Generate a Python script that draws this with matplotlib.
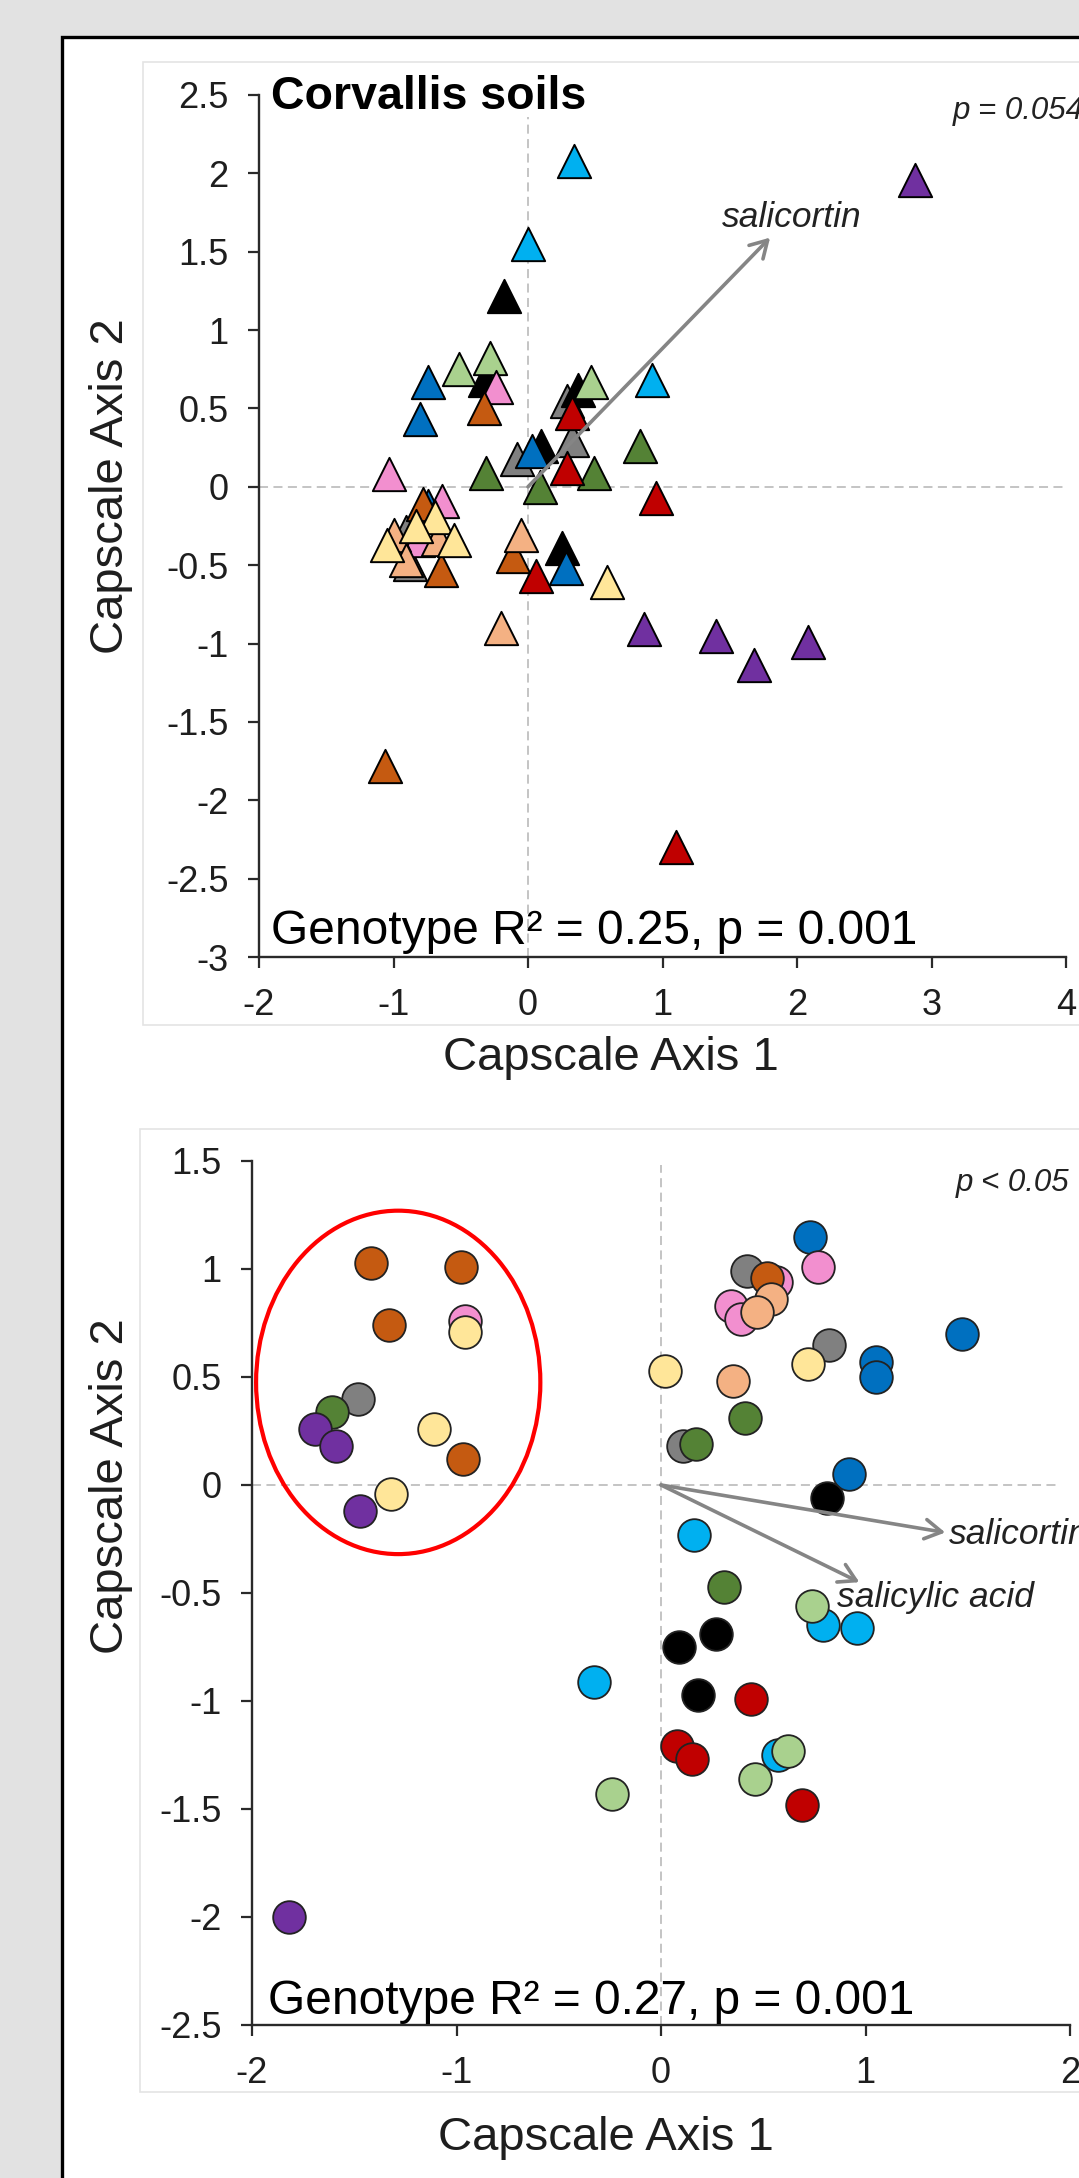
import numpy as np
import matplotlib
matplotlib.use('Agg')
import matplotlib.pyplot as plt
from matplotlib.patches import Rectangle, Ellipse

plt.rcParams['font.family'] = ['Liberation Sans', 'DejaVu Sans']
plt.rcParams['axes.unicode_minus'] = False

W, H = 1079, 2178

# ---- colours of the genotypes ----
colors = {
    'gray': '#808080', 'black': '#000000', 'blue': '#0070c0', 'cyan': '#00b0f0',
    'purple': '#7030a0', 'lgreen': '#a9d18e', 'dgreen': '#548235', 'red': '#c00000',
    'pink': '#f28fcf', 'brown': '#c55a11', 'salmon': '#f4b183', 'yellow': '#ffe699',
}

# ---- Corvallis soils (triangles) ----
top_gray_x = [0.29, 0.33, -0.08, -0.91, -0.88]
top_gray_y = [0.55, 0.30, 0.18, -0.29, -0.49]
top_black_x = [-0.18, -0.32, 0.37, 0.10, 0.25]
top_black_y = [1.22, 0.68, 0.62, 0.26, -0.39]
top_blue_x = [-0.74, -0.80, 0.03, 0.28, -0.74]
top_blue_y = [0.67, 0.43, 0.23, -0.52, -0.12]
top_cyan_x = [0.34, 0.00, 0.92]
top_cyan_y = [2.08, 1.55, 0.68]
top_purple_x = [2.88, 0.86, 1.40, 1.68, 2.08]
top_purple_y = [1.96, -0.91, -0.95, -1.14, -0.99]
top_lgreen_x = [-0.28, -0.51, 0.47]
top_lgreen_y = [0.82, 0.75, 0.67]
top_dgreen_x = [0.83, -0.31, 0.49, 0.09]
top_dgreen_y = [0.26, 0.09, 0.09, 0.00]
top_red_x = [0.33, 0.29, 0.95, 0.06, 1.10]
top_red_y = [0.47, 0.12, -0.07, -0.57, -2.30]
top_pink_x = [-0.24, -1.03, -0.64, -0.82]
top_pink_y = [0.64, 0.08, -0.09, -0.34]
top_brown_x = [-0.33, -0.78, -0.65, -0.11, -1.06]
top_brown_y = [0.50, -0.11, -0.53, -0.44, -1.78]
top_salmon_x = [-1.00, -0.67, -0.91, -0.05, -0.20]
top_salmon_y = [-0.31, -0.33, -0.47, -0.31, -0.90]
top_yellow_x = [-0.69, -0.83, -0.55, -1.05, 0.59]
top_yellow_y = [-0.19, -0.25, -0.34, -0.37, -0.61]

# ---- second panel (circles) ----
bot_gray_x = [0.42, 0.82, 0.11, -1.48]
bot_gray_y = [0.99, 0.65, 0.18, 0.40]
bot_blue_x = [0.73, 1.47, 1.05, 1.05, 0.92]
bot_blue_y = [1.15, 0.70, 0.57, 0.50, 0.05]
bot_black_x = [0.81, 0.27, 0.09, 0.18]
bot_black_y = [-0.06, -0.69, -0.75, -0.97]
bot_dgreen_x = [0.41, 0.17, 0.31, -1.61]
bot_dgreen_y = [0.31, 0.19, -0.47, 0.34]
bot_cyan_x = [0.16, -0.33, 0.79, 0.96, 0.57]
bot_cyan_y = [-0.23, -0.91, -0.65, -0.66, -1.25]
bot_lgreen_x = [0.74, 0.62, 0.46, -0.24]
bot_lgreen_y = [-0.56, -1.23, -1.36, -1.43]
bot_pink_x = [0.77, 0.56, 0.34, 0.39, -0.96]
bot_pink_y = [1.01, 0.94, 0.83, 0.77, 0.76]
bot_brown_x = [0.52, -1.42, -0.98, -1.33, -0.97]
bot_brown_y = [0.96, 1.03, 1.01, 0.74, 0.12]
bot_salmon_x = [0.54, 0.47, 0.35]
bot_salmon_y = [0.86, 0.80, 0.48]
bot_yellow_x = [0.02, 0.72, -0.96, -1.11, -1.32]
bot_yellow_y = [0.53, 0.56, 0.71, 0.26, -0.04]
bot_purple_x = [-1.69, -1.59, -1.47, -1.82]
bot_purple_y = [0.26, 0.18, -0.12, -2.00]
bot_red_x = [0.44, 0.08, 0.15, 0.69]
bot_red_y = [-0.99, -1.21, -1.27, -1.48]

# biplot arrows (end points) and labels
top_arrow = (1.80, 1.59)
bot_arrows = [(1.39, -0.22), (0.97, -0.45)]

top_xticks = [-2, -1, 0, 1, 2, 3, 4]
top_yticks = [-3, -2.5, -2, -1.5, -1, -0.5, 0, 0.5, 1, 1.5, 2, 2.5]
bot_xticks = [-2, -1, 0, 1, 2]
bot_yticks = [-2.5, -2, -1.5, -1, -0.5, 0, 0.5, 1, 1.5]


def px(x, y):
    return x / W, 1 - y / H


fig = plt.figure(figsize=(W / 100, H / 100), dpi=100)
fig.patch.set_facecolor('#e2e2e2')

# white panel with black frame
fig.patches.append(Rectangle(px(62, 2300), 1.2, (2300 - 37) / H, transform=fig.transFigure,
                             facecolor='white', edgecolor='black', linewidth=2.4, zorder=-3))
# light grey chart boxes
fig.patches.append(Rectangle(px(143, 1025), 1.0, (1025 - 62) / H, transform=fig.transFigure,
                             facecolor='white', edgecolor='#e4e4e4', linewidth=1.2, zorder=-2))
fig.patches.append(Rectangle(px(140, 2092), 1.0, (2092 - 1129) / H, transform=fig.transFigure,
                             facecolor='white', edgecolor='#e4e4e4', linewidth=1.2, zorder=-2))

ax1 = fig.add_axes([259 / W, 1 - 957 / H, (1066 - 259) / W, (957 - 95) / H])
ax2 = fig.add_axes([252 / W, 1 - 2025 / H, (1070 - 252) / W, (2025 - 1161) / H])


def style(ax, xt, yt, xl, yl):
    ax.set_zorder(2)
    ax.set_xlim(*xl)
    ax.set_ylim(*yl)
    ax.patch.set_alpha(0)
    for s in ['top', 'right']:
        ax.spines[s].set_visible(False)
    for s in ['left', 'bottom']:
        ax.spines[s].set_color('#2a2a2a')
        ax.spines[s].set_linewidth(1.7)
    ax.set_xticks(xt)
    ax.set_xticklabels([f'{v:g}' for v in xt])
    ax.set_yticks(yt)
    ax.set_yticklabels([f'{v:g}' for v in yt])
    ax.tick_params(direction='out', length=8, width=1.6, color='#2a2a2a',
                   labelsize=26, labelcolor='#1e1e1e', pad=14)


style(ax1, top_xticks, top_yticks, (-2, 4), (-3, 2.5))
style(ax2, bot_xticks, bot_yticks, (-2, 2), (-2.5, 1.5))

dash = dict(color='#bfbfbf', lw=1.3, linestyle=(0, (5, 3)), zorder=1)
ax1.plot([0, 0], [-3, 2.36], **dash)
ax1.plot([-2, 4], [0, 0], **dash)
ax2.plot([0, 0], [-2.5, 1.48], **dash)
ax2.plot([-2, 1.95], [0, 0], **dash)

top_series = [
    (top_gray_x, top_gray_y, 'gray'), (top_black_x, top_black_y, 'black'),
    (top_blue_x, top_blue_y, 'blue'), (top_cyan_x, top_cyan_y, 'cyan'),
    (top_purple_x, top_purple_y, 'purple'), (top_lgreen_x, top_lgreen_y, 'lgreen'),
    (top_dgreen_x, top_dgreen_y, 'dgreen'), (top_red_x, top_red_y, 'red'),
    (top_pink_x, top_pink_y, 'pink'), (top_brown_x, top_brown_y, 'brown'),
    (top_salmon_x, top_salmon_y, 'salmon'), (top_yellow_x, top_yellow_y, 'yellow'),
]
for i, (xs, ys, c) in enumerate(top_series):
    ax1.scatter(xs, ys, s=24 ** 2, marker='^', facecolor=colors[c], edgecolor='black',
                linewidth=1.4, zorder=3 + i * 0.01)

bot_series = [
    (bot_gray_x, bot_gray_y, 'gray'), (bot_blue_x, bot_blue_y, 'blue'),
    (bot_black_x, bot_black_y, 'black'), (bot_dgreen_x, bot_dgreen_y, 'dgreen'),
    (bot_cyan_x, bot_cyan_y, 'cyan'), (bot_lgreen_x, bot_lgreen_y, 'lgreen'),
    (bot_pink_x, bot_pink_y, 'pink'), (bot_brown_x, bot_brown_y, 'brown'),
    (bot_salmon_x, bot_salmon_y, 'salmon'), (bot_yellow_x, bot_yellow_y, 'yellow'),
    (bot_purple_x, bot_purple_y, 'purple'), (bot_red_x, bot_red_y, 'red'),
]
for i, (xs, ys, c) in enumerate(bot_series):
    ax2.scatter(xs, ys, s=23.5 ** 2, marker='o', facecolor=colors[c], edgecolor='#222222',
                linewidth=1.3, zorder=3 + i * 0.01)

arrow = dict(arrowstyle='->,head_length=0.6,head_width=0.35', color='#858585', lw=2.6,
             shrinkA=0, shrinkB=0, mutation_scale=20)
ax1.annotate('', xy=top_arrow, xytext=(0, 0), arrowprops=arrow, zorder=5)
for tip in bot_arrows:
    ax2.annotate('', xy=tip, xytext=(0, 0), arrowprops=arrow, zorder=5)

ax1.text(1.96, 1.72, 'salicortin', fontsize=25.5, style='italic', color='#222222',
         ha='center', va='center', zorder=6)
ax2.text(1.41, -0.23, 'salicortin', fontsize=25.5, style='italic', color='#222222',
         ha='left', va='center', zorder=6)
ax2.text(0.86, -0.52, 'salicylic acid', fontsize=25.5, style='italic', color='#222222',
         ha='left', va='center', zorder=6)

ax1.text(3.16, 2.40, 'p = 0.054', fontsize=22.5, style='italic', color='#222222',
         ha='left', va='center', clip_on=False)
ax2.text(1.44, 1.40, 'p < 0.05', fontsize=22.5, style='italic', color='#222222',
         ha='left', va='center', clip_on=False)

ax1.text(-1.91, 2.49, 'Corvallis soils', fontsize=33.5, fontweight='bold', color='black',
         ha='left', va='center', zorder=6)
ax1.text(-1.91, -2.92, 'Genotype R² = 0.25, p = 0.001', fontsize=34.5, color='black',
         ha='left', va='baseline', zorder=6)
ax2.text(-1.92, -2.45, 'Genotype R² = 0.27, p = 0.001', fontsize=34.5, color='black',
         ha='left', va='baseline', zorder=6)

ax2.add_patch(Ellipse((-1.285, 0.475), 1.39, 1.59, facecolor='none', edgecolor='#ff0000',
                      linewidth=3, zorder=2))

fig.text(*px(111, 486), 'Capscale Axis 2', fontsize=34, rotation=90, ha='center', va='center',
         color='#1e1e1e')
fig.text(*px(111, 1486), 'Capscale Axis 2', fontsize=34, rotation=90, ha='center', va='center',
         color='#1e1e1e')
fig.text(*px(611, 1058), 'Capscale Axis 1', fontsize=34, ha='center', va='center', color='#1e1e1e')
fig.text(*px(606, 2138), 'Capscale Axis 1', fontsize=34, ha='center', va='center', color='#1e1e1e')

fig.savefig('out.png', dpi=100, facecolor=fig.get_facecolor())
